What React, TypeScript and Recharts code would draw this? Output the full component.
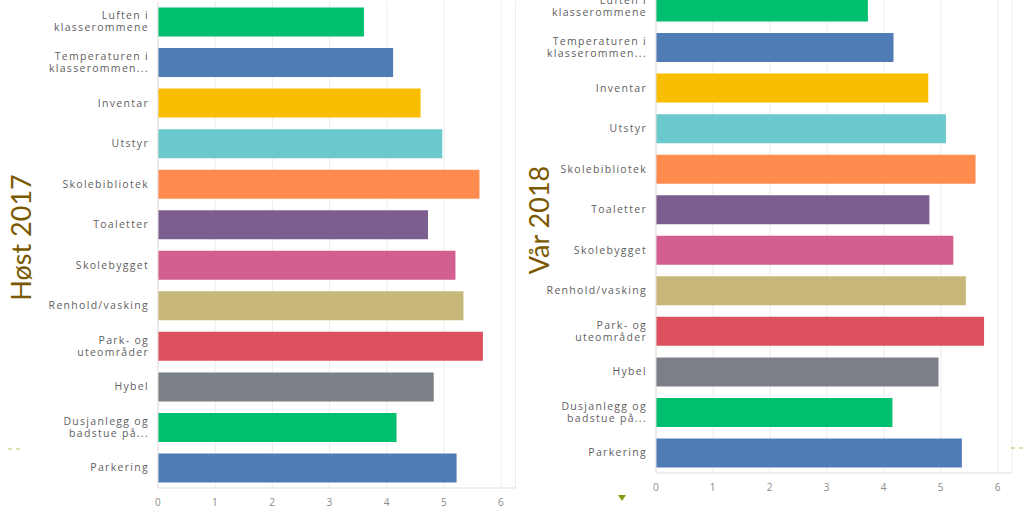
import { BarChart, Bar, XAxis, YAxis, CartesianGrid, Cell } from 'recharts';

const categories = [
  'Luften i\nklasserommene',
  'Temperaturen i\nklasserommen...',
  'Inventar',
  'Utstyr',
  'Skolebibliotek',
  'Toaletter',
  'Skolebygget',
  'Renhold/vasking',
  'Park- og\nuteområder',
  'Hybel',
  'Dusjanlegg og\nbadstue på...',
  'Parkering',
];

const host2017 = [3.6, 4.11, 4.59, 4.97, 5.62, 4.72, 5.2, 5.34, 5.68, 4.82, 4.17, 5.22];
const var2018 = [3.72, 4.17, 4.78, 5.09, 5.61, 4.8, 5.22, 5.44, 5.76, 4.96, 4.15, 5.37];

const barColors = [
  '#00bf6f', '#507cb6', '#f9be00', '#6bc8cd', '#ff8b4f', '#7d5e90',
  '#d25f90', '#c7b879', '#dc505f', '#7a8085', '#00bf6f', '#507cb6',
];

const xTicks = [0, 1, 2, 3, 4, 5, 6];

const CategoryTick = (props: any) => {
  const { x, y, payload } = props;
  const lines = String(payload.value).split('\n');
  const lh = 12;
  const start = -((lines.length - 1) * lh) / 2;
  return (
    <text x={x} y={y} textAnchor="end" fill="#5f6062" fontSize={10.5} fontFamily="Open Sans" letterSpacing={1.3}>
      {lines.map((l, i) => (
        <tspan key={i} x={x} y={y + start + i * lh} dy="0.35em">{l}</tspan>
      ))}
    </text>
  );
};

const SurveyChart = ({ values, left, top, width, right }: { values: number[]; left: number; top: number; width: number; right: number }) => {
  const rows = categories.map((name, i) => ({ name, value: values[i] }));
  return (
    <div style={{ position: 'absolute', left, top, width, height: 511 }}>
      <BarChart
        width={width}
        height={511}
        layout="vertical"
        data={rows}
        margin={{ top: 1.5, right, bottom: 0, left: 0 }}
        barSize={29}
      >
        <CartesianGrid horizontal={false} stroke="#ececec" />
        <XAxis
          type="number"
          domain={[0, 6.25]}
          ticks={xTicks}
          height={23}
          axisLine={{ stroke: '#dedede' }}
          tickLine={false}
          tickMargin={5}
          tick={{ fill: '#8a8a8a', fontSize: 10, fontFamily: 'Open Sans', letterSpacing: 0.5 }}
        />
        <YAxis
          type="category"
          dataKey="name"
          width={158}
          interval={0}
          axisLine={{ stroke: '#e6dede' }}
          tickLine={false}
          tickMargin={3}
          tick={<CategoryTick />}
        />
        <Bar dataKey="value" isAnimationActive={false}>
          {rows.map((r, i) => (
            <Cell key={r.name} fill={barColors[i]} />
          ))}
        </Bar>
      </BarChart>
    </div>
  );
};

const App = () => {
  return (
    <div style={{ position: 'absolute', left: 0, top: 0, width: 1024, height: 511, overflow: 'hidden', background: '#fff' }}>
      <SurveyChart values={host2017} left={0} top={0} width={520} right={4.5} />
      <SurveyChart values={var2018} left={498} top={-15.5} width={526} right={12} />
      <svg width={1024} height={511} style={{ position: 'absolute', left: 0, top: 0, pointerEvents: 'none' }}>
        <text x={20} y={237.5} transform="rotate(-90, 20, 237.5)" textAnchor="middle" dominantBaseline="central" fill="#7a5800" fontSize={27} fontFamily="Lato">
          Høst 2017
        </text>
        <text x={538} y={220} transform="rotate(-90, 538, 220)" textAnchor="middle" dominantBaseline="central" fill="#7a5800" fontSize={27} fontFamily="Lato">
          Vår 2018
        </text>
        <line x1={8} y1={449} x2={22} y2={449} stroke="#b8c25a" strokeDasharray="4 4" />
        <line x1={1011} y1={448} x2={1024} y2={448} stroke="#b8c25a" strokeDasharray="4 4" />
        <polygon points="618,495 626,495 622,501" fill="#8a9a10" />
      </svg>
    </div>
  );
};

export default App;
